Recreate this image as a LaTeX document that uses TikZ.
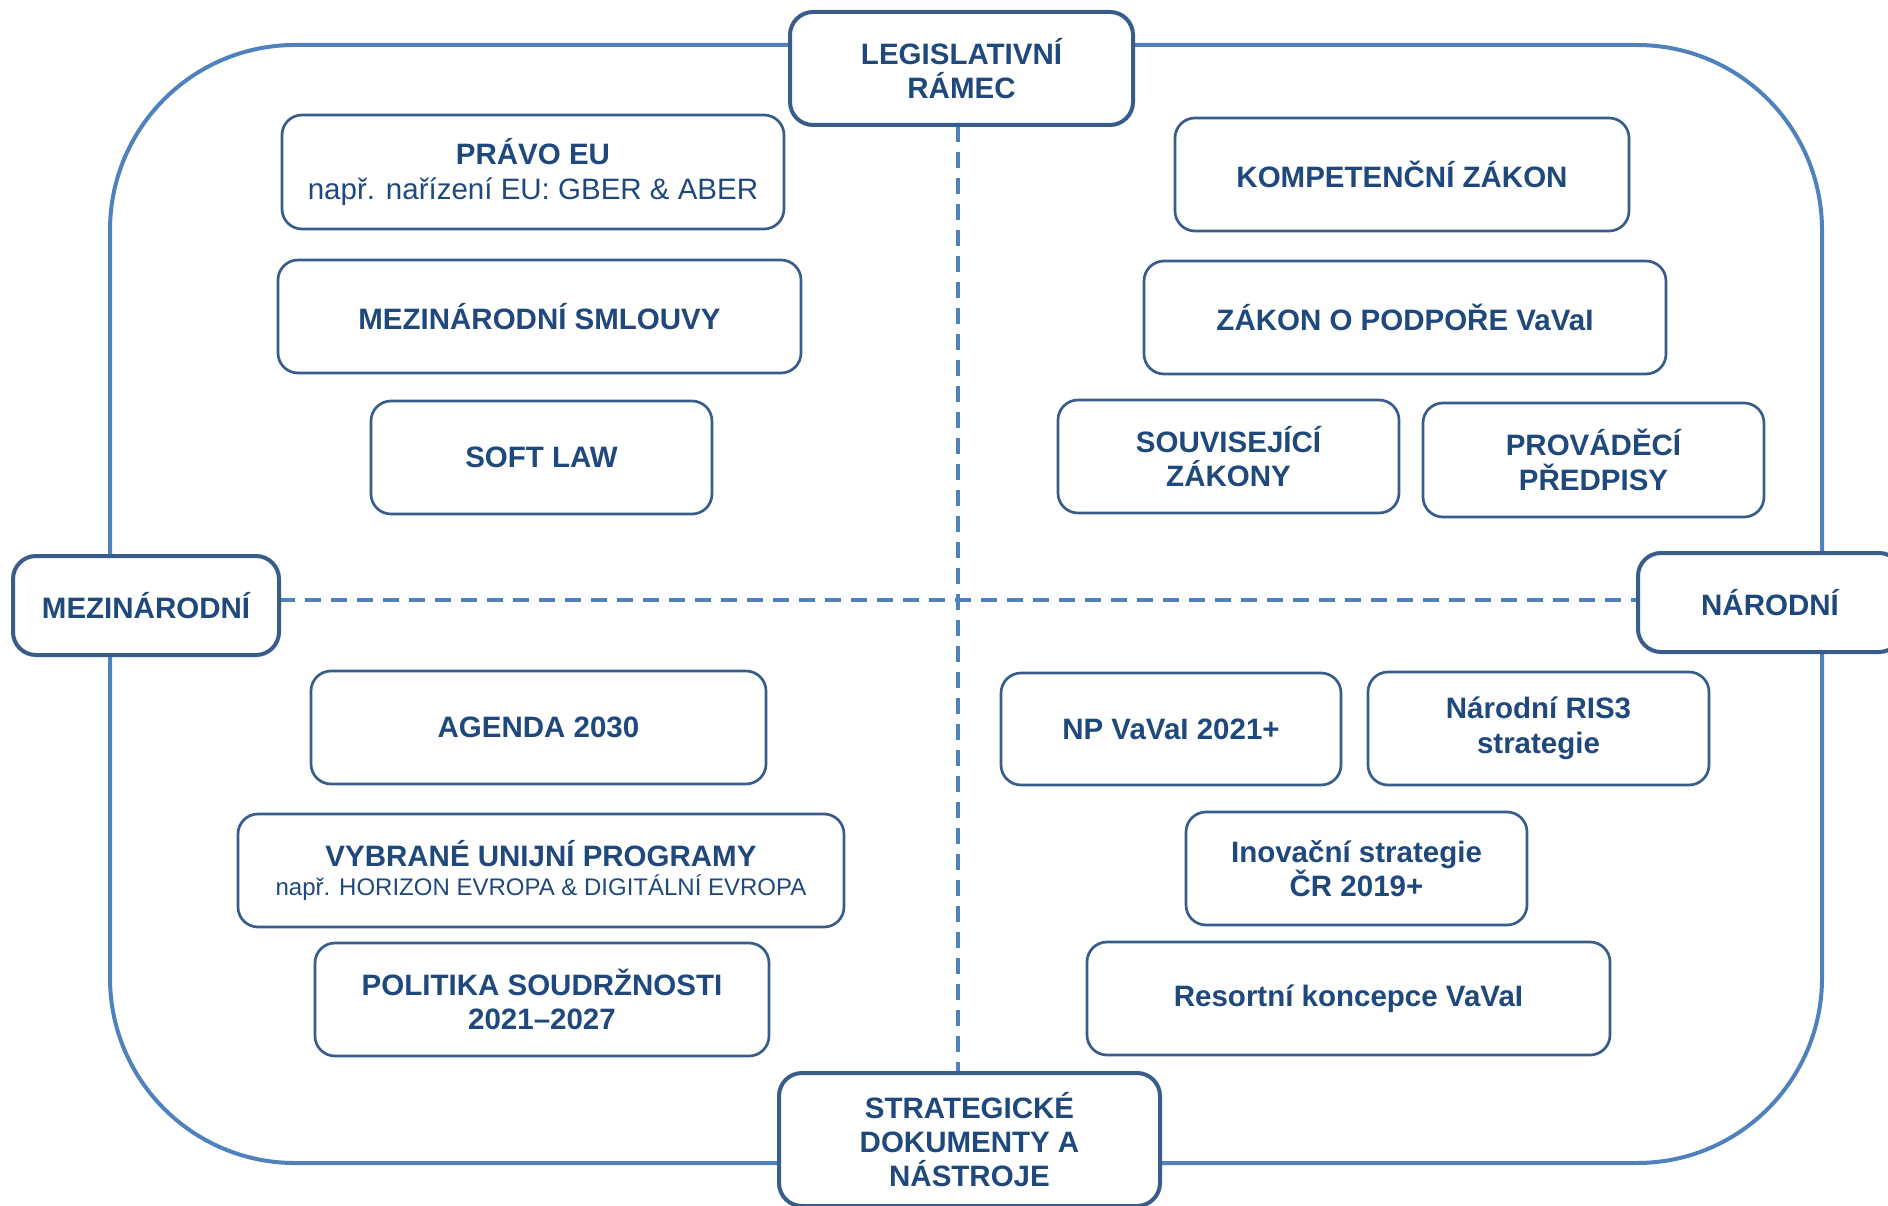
\documentclass[tikz,border=0pt]{standalone}
\usepackage{fontspec}
\setmainfont{Liberation Sans}
\definecolor{boxc}{RGB}{56,93,138}
\definecolor{txtc}{RGB}{31,73,125}
\definecolor{linec}{RGB}{79,129,189}
\tikzset{
  box/.style={draw=boxc, line width=2.7pt, rounded corners=20pt, fill=white, text=txtc,
    font=\fontsize{29.5}{34.5}\selectfont\bfseries, align=center, inner sep=0pt},
  headbox/.style={box, line width=4pt, rounded corners=23pt},
  outerline/.style={draw=linec, line width=4pt, rounded corners=185pt},
  dashline/.style={draw=linec, line width=3.6pt, dash pattern=on 16pt off 10pt}
}
\newcommand\mybox[7][box]{\node[#1, minimum width={#5-#3}, minimum height={#6-#4}] (#2) at ({(#3+#5)/2},{(#4+#6)/2}) {#7};}
\begin{document}
\begin{tikzpicture}[x=1pt,y=-1pt]
\useasboundingbox (0,0) rectangle (1888,1206);
\clip (0,0) rectangle (1888,1206);
\draw[outerline] (110,45) rectangle (1822,1163);
% dashed dividers
\coordinate (vt) at (958,126);
\coordinate (vb) at (958,1073);
\coordinate (hl) at (279,600);
\coordinate (hr) at (1638,600);
\draw[dashline] (vt) -- (vb);
\draw[dashline] (hl) -- (hr);
% header boxes
\mybox[headbox]{legis}{790}{12}{1133}{125}{LEGISLATIVNÍ\\RÁMEC}
\mybox[headbox]{mez}{13}{556}{279}{655}{MEZINÁRODNÍ}
\mybox[headbox]{nar}{1638}{553}{1902}{652}{NÁRODNÍ}
\mybox[headbox]{strat}{779}{1073}{1160}{1206}{STRATEGICKÉ\\[-0.7pt]DOKUMENTY A\\[-0.7pt]NÁSTROJE}
% left column
\mybox{pravo}{282}{115}{784}{229}{PRÁVO EU\\{\mdseries např. nařízení EU: GBER \& ABER}}
\mybox{smlouvy}{278}{260}{801}{373}{MEZINÁRODNÍ SMLOUVY}
\mybox{soft}{371}{401}{712}{514}{SOFT LAW}
\mybox{agenda}{311}{671}{766}{784}{AGENDA 2030}
\mybox{vybrane}{238}{814}{844}{927}{VYBRANÉ UNIJNÍ PROGRAMY\\[-5.5pt]{\fontsize{24}{29}\selectfont\mdseries např. HORIZON EVROPA \& DIGITÁLNÍ EVROPA}}
\mybox{politika}{315}{943}{769}{1056}{POLITIKA SOUDRŽNOSTI\\2021–2027}
% right column
\mybox{komp}{1175}{118}{1629}{231}{KOMPETENČNÍ ZÁKON}
\mybox{zakon}{1144}{261}{1666}{374}{ZÁKON O PODPOŘE VaVaI}
\mybox{souv}{1058}{400}{1399}{513}{SOUVISEJÍCÍ\\ZÁKONY}
\mybox{prov}{1423}{403}{1764}{517}{PROVÁDĚCÍ\\PŘEDPISY}
\mybox{npvavai}{1001}{673}{1341}{785}{NP VaVaI 2021+}
\mybox{ris}{1368}{672}{1709}{785}{Národní RIS3\\strategie}
\mybox{inov}{1186}{812}{1527}{925}{Inovační strategie\\ČR 2019+}
\mybox{resort}{1087}{942}{1610}{1055}{Resortní koncepce VaVaI}
\end{tikzpicture}
\end{document}
